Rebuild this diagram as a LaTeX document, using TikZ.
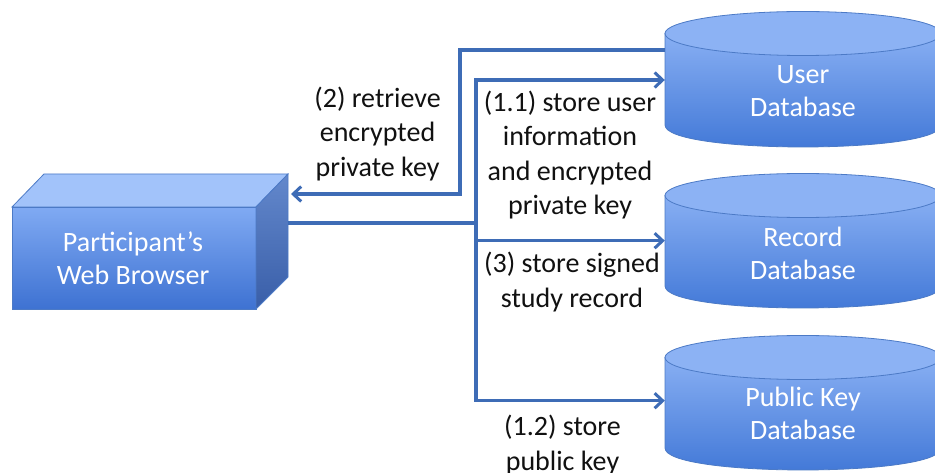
\documentclass[tikz,border=0pt]{standalone}
\usepackage{fontspec}
\setmainfont{Carlito}
\usetikzlibrary{arrows.meta}
\definecolor{arrowblue}{HTML}{3E6CB6}
\definecolor{dbtop}{HTML}{8CB2F4}
\definecolor{dbhi}{HTML}{88AFF3}
\definecolor{dblo}{HTML}{3F76D6}
\definecolor{edgeblue}{HTML}{4C7AC6}
\definecolor{brtop}{HTML}{A2C3FA}
\definecolor{brhi}{HTML}{80AAF3}
\definecolor{brlo}{HTML}{3E72D2}
\definecolor{sidehi}{HTML}{6388CC}
\definecolor{sidelo}{HTML}{395EA8}
\definecolor{txt}{HTML}{111111}
\newcommand\dbcyl[3]{%
  \shade[top color=dbhi, bottom color=dblo, draw=edgeblue, line width=0.8pt]
    (#1-138,#2) -- (#1-138,#3) .. controls (#1-138,#3+29.3) and (#1+138,#3+29.3) .. (#1+138,#3) -- (#1+138,#2) -- cycle;
  \fill[dbtop, draw=edgeblue, line width=0.8pt] (#1,#2) ellipse [x radius=138pt, y radius=22pt];
}
\tikzset{
  wtext/.style={text=white, align=center, font=\fontsize{28}{33}\selectfont, inner sep=0pt},
  btext/.style={text=txt, align=center, font=\fontsize{28}{34.5}\selectfont, inner sep=0pt},
  dbnode/.style={wtext, minimum width=276pt, minimum height=135pt},
  conn/.style={draw=arrowblue, line width=3.2pt},
  arr/.style={conn, -{Straight Barb[length=8pt,width=15pt,line width=3pt]}},
}
\begin{document}
\begin{tikzpicture}[x=1pt, y=-1pt]
\useasboundingbox (0,0) rectangle (935,473);
\clip (0,0) rectangle (935,473);
\fill[white] (0,0) rectangle (935,473);
% databases
\dbcyl{803}{33.5}{125}
\dbcyl{803}{195.5}{286}
\dbcyl{803}{357.5}{448}
\node[dbnode] (user) at (803,91.5) {User\\Database};
\node[dbnode] (record) at (803,253.5) {Record\\Database};
\node[dbnode] (public) at (803,413.5) {Public Key\\Database};
% browser box
\shade[top color=brhi, bottom color=brlo, draw=edgeblue, line width=0.8pt] (12,207) rectangle (256,309);
\fill[brtop, draw=edgeblue, line width=0.8pt] (12,207) -- (44,174) -- (288,174) -- (256,207) -- cycle;
\shade[top color=sidehi, bottom color=sidelo, draw=edgeblue, line width=0.8pt] (256,207) -- (288,174) -- (288,277) -- (256,309) -- cycle;
\node[wtext] (browser) at (133,258) {Participant’s\\Web Browser};
% connectors
\coordinate (bout) at (288,223);
\coordinate (bin) at (291,194);
\coordinate (k2) at (460,194);
\coordinate (j1) at (476,223);
\draw[arr] ([yshift=41.5pt]user.west) -| (k2) -- (bin);
\draw[conn] (bout) -- (j1);
\draw[arr] (j1) |- ([yshift=11.5pt]user.west);
\draw[arr] (j1) |- ([yshift=12.8pt]record.west);
\draw[arr] (j1) |- ([yshift=12.8pt]public.west);
% labels
\node[btext] (l2) at (377.5,134) {(2) retrieve\\encrypted\\private key};
\node[btext] (l11) at (570,155) {(1.1) store user\\information\\and encrypted\\private key};
\node[btext] (l3) at (572,282) {(3) store signed\\study record};
\node[btext] (l12) at (562.5,445) {(1.2) store\\public key};
\end{tikzpicture}
\end{document}
